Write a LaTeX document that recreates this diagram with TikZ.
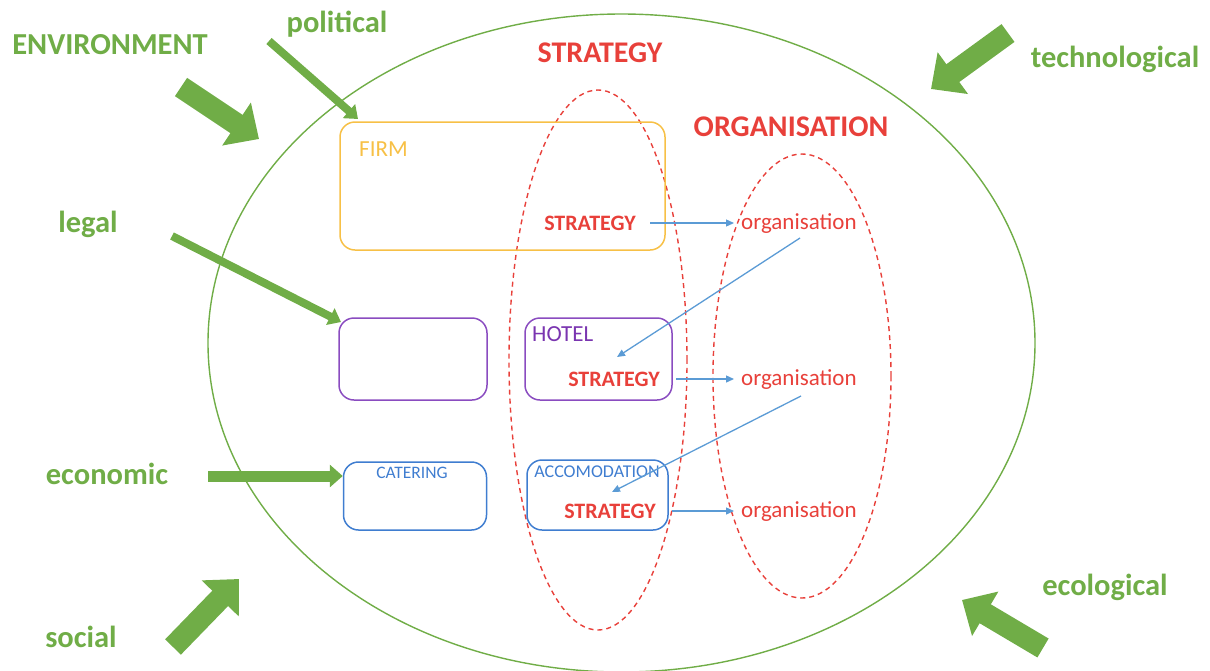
\documentclass[tikz,border=0pt]{standalone}
\usepackage{fontspec}
\setmainfont{Carlito}
\usetikzlibrary{arrows.meta,shapes.geometric}
\definecolor{envgreen}{HTML}{70AD47}
\definecolor{stratred}{HTML}{E8403A}
\definecolor{firmyellow}{HTML}{F7C046}
\definecolor{hotelpurple}{HTML}{8A4CC0}
\definecolor{hoteltext}{HTML}{7A35B0}
\definecolor{accblue}{HTML}{3F7DD0}
\definecolor{linkblue}{HTML}{5B9BD5}
\tikzset{
  box/.style={draw, line width=1.5pt, rounded corners=15pt, minimum width=#1},
  biglabel/.style={text=envgreen, font=\fontsize{30.5}{32}\selectfont\bfseries, inner sep=0pt},
  redtitle/.style={text=stratred, font=\fontsize{30}{32}\selectfont\bfseries, inner sep=0pt},
  redsmall/.style={text=stratred, font=\fontsize{22}{24}\selectfont\bfseries, inner sep=0pt},
  orgtext/.style={text=stratred, font=\fontsize{23}{25}\selectfont, inner ysep=0pt, inner xsep=7pt},
  dashell/.style={draw=stratred, line width=1.4pt, dash pattern=on 5pt off 4pt},
  link/.style={draw=linkblue, line width=1.3pt, -{Triangle[length=8pt,width=7pt]}},
  thinblock/.style={draw=envgreen, line width=8pt, -{Triangle[length=12pt,width=18pt]}},
  fatblock/.style={draw=envgreen, line width=22pt, -{Triangle[length=27pt,width=50pt]}},
}
\begin{document}
\begin{tikzpicture}[x=1pt,y=-1pt]
\useasboundingbox (0,0) rectangle (1210,670);
% environment ellipse
\node[draw=envgreen, line width=1.4pt, ellipse, minimum width=827pt, minimum height=658pt, inner sep=0pt] (env) at (621.5,343) {};
% strategy and organisation ellipses
\node[dashell, ellipse, minimum width=178pt, minimum height=540pt, inner sep=0pt] (stratell) at (598,360) {};
\node[dashell, ellipse, minimum width=178pt, minimum height=444pt, inner sep=0pt] (orgell) at (802,376) {};
% boxes
\node[box=325pt, draw=firmyellow, minimum height=128pt] (firm) at (502.5,186) {};
\node[box=148pt, draw=hotelpurple, minimum height=82pt] (leftbox) at (413,359) {};
\node[box=147pt, draw=hotelpurple, minimum height=82pt] (hotel) at (598.5,359) {};
\node[box=143pt, draw=accblue, minimum height=68pt] (catering) at (415,496) {};
\node[box=141pt, draw=accblue, minimum height=70pt] (accom) at (597.5,495) {};
% box labels
\node[anchor=west, text=firmyellow, font=\fontsize{23}{25}\selectfont, inner sep=0pt] (firmlbl) at (359,149) {FIRM};
\node[anchor=west, text=hoteltext, font=\fontsize{23}{25}\selectfont, inner sep=0pt] (hotellbl) at (532,334) {HOTEL};
\node[text=accblue, font=\fontsize{17.5}{19}\selectfont, inner sep=0pt] (catlbl) at (412,473) {CATERING};
\node[text=accblue, font=\fontsize{18}{20}\selectfont, inner sep=0pt] (acclbl) at (597,472) {ACCOMODATION};
% strategy / organisation texts
\node[redsmall] (s1) at (590,223) {STRATEGY};
\node[redsmall] (s2) at (614,379) {STRATEGY};
\node[redsmall] (s3) at (610,511) {STRATEGY};
\node[orgtext, anchor=west] (o1) at (734,224) {organisation};
\node[orgtext, anchor=west] (o2) at (734,380) {organisation};
\node[orgtext, anchor=west] (o3) at (734,512) {organisation};
% titles
\node[redtitle] (strattitle) at (600,53) {STRATEGY};
\node[redtitle] (orgtitle) at (791,127) {ORGANISATION};
% environment labels
\node[biglabel] (envlbl) at (110,45) {ENVIRONMENT};
\node[biglabel] (pol) at (337,24) {political};
\node[biglabel] (legal) at (88,224) {legal};
\node[biglabel] (eco) at (107,474) {economic};
\node[biglabel] (soc) at (81,637) {social};
\node[biglabel] (tech) at (1115,59) {technological};
\node[biglabel] (ecol) at (1105,587) {ecological};
% blue links
\coordinate (s1e) at (650,223);
\coordinate (h1e) at (676,379);
\coordinate (a1e) at (672,511);
\draw[link] (s1e) -- (s1e -| o1.west);
\draw[link] (h1e) -- (h1e -| o2.west);
\draw[link] (a1e) -- (a1e -| o3.west);
\coordinate (o1d) at (800,238);
\coordinate (h1t) at (617,357);
\draw[link] (o1d) -- (h1t);
\coordinate (o2d) at (801,396);
\coordinate (a1t) at (612,492);
\draw[link] (o2d) -- (a1t);
% green block arrows
\coordinate (envtail) at (181,87);
\coordinate (envtip) at (259,139);
\draw[fatblock] (envtail) -- (envtip);
\coordinate (poltail) at (269,41);
\coordinate (poltip) at (358,119);
\draw[thinblock] (poltail) -- (poltip);
\coordinate (techtail) at (1008,33);
\coordinate (techtip) at (931,89);
\draw[fatblock] (techtail) -- (techtip);
\coordinate (legtail) at (172,236);
\coordinate (legtip) at (341,322);
\draw[thinblock] (legtail) -- (legtip);
\coordinate (ecotail) at (208,476);
\draw[draw=envgreen, line width=11pt, -{Triangle[length=13pt,width=22pt]}] (ecotail) -- (ecotail -| catering.west);
\coordinate (soctail) at (173,647);
\coordinate (soctip) at (239,579);
\draw[fatblock] (soctail) -- (soctip);
\coordinate (ecoltail) at (1043,648);
\coordinate (ecoltip) at (962,600);
\draw[fatblock] (ecoltail) -- (ecoltip);
\end{tikzpicture}
\end{document}
